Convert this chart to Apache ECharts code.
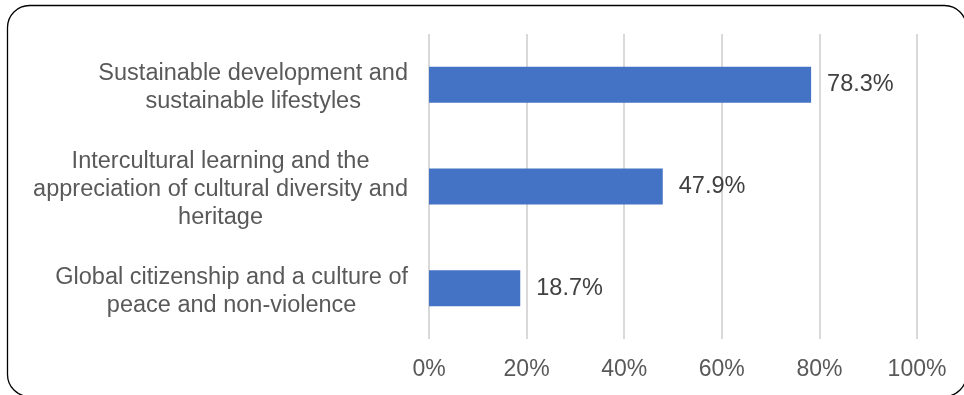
<!DOCTYPE html>
<html>
<head>
<meta charset="utf-8">
<style>
  html, body { margin: 0; padding: 0; background: #ffffff; }
  #chart { width: 964px; height: 395px; }
</style>
<script src="https://cdn.jsdelivr.net/npm/echarts@6/dist/echarts.min.js"></script>
</head>
<body>
<div id="chart"></div>
<script>
// Topics, top to bottom, with their wrapped label lines
const topics = [
  ['Sustainable development and', 'sustainable lifestyles'],
  ['Intercultural learning and the', 'appreciation of cultural diversity and', 'heritage'],
  ['Global citizenship and a culture of', 'peace and non-violence']
];
// Share of respondents per topic (%)
const shares = [78.3, 47.9, 18.7];
// Value axis ticks (%)
const xTicks = [0, 20, 40, 60, 80, 100];

const FONT = '"Liberation Sans", Arial, sans-serif';
const categories = topics.map(lines => lines.join('\n'));

const chart = echarts.init(document.getElementById('chart'), null, { renderer: 'canvas' });

chart.setOption({
  backgroundColor: '#ffffff',
  animation: false,
  graphic: [{
    type: 'rect',
    shape: { x: 7.5, y: 5.5, width: 959, height: 391, r: 22 },
    style: { fill: 'none', stroke: '#000000', lineWidth: 1.3 },
    silent: true,
    z: 100
  }],
  grid: { left: 429, right: 47, top: 34, bottom: 56, containLabel: false },
  xAxis: {
    type: 'value',
    min: xTicks[0],
    max: xTicks[xTicks.length - 1],
    interval: xTicks[1] - xTicks[0],
    axisLine: { show: false },
    axisTick: { show: false },
    splitLine: { show: true, lineStyle: { color: '#d9d9d9', width: 2 } },
    axisLabel: {
      formatter: '{value}%',
      color: '#595959',
      fontFamily: FONT,
      fontSize: 23,
      margin: 19
    }
  },
  yAxis: {
    type: 'category',
    data: categories,
    inverse: true,
    axisLine: { show: false },
    axisTick: { show: false },
    axisLabel: {
      margin: 21,
      padding: [6, 0, 0, 0],
      color: '#595959',
      fontFamily: FONT,
      fontSize: 23.5,
      lineHeight: 28,
      formatter: v => v.split('\n').map(l => '{c|' + l + '}').join('\n'),
      rich: {
        c: { align: 'center', color: '#595959', fontFamily: FONT, fontSize: 23.5, lineHeight: 28 }
      }
    }
  },
  series: [{
    type: 'bar',
    data: shares,
    barWidth: 36,
    itemStyle: { color: '#4472C4' },
    label: {
      show: true,
      position: 'right',
      distance: 16,
      color: '#404040',
      fontFamily: FONT,
      fontSize: 23.5,
      formatter: p => p.value.toFixed(1) + '%'
    }
  }]
});
</script>
</body>
</html>
